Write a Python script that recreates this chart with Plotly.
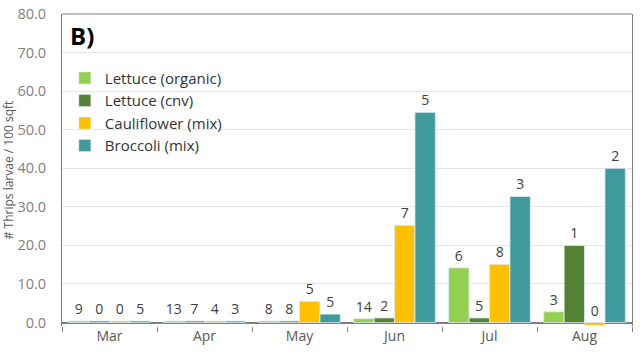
import plotly.graph_objects as go

months = ["Mar", "Apr", "May", "Jun", "Jul", "Aug"]

lettuce_org = [0.4, 0.4, 0.4, 1.0, 14.2, 2.8]
lettuce_cnv = [0.4, 0.4, 0.4, 1.2, 1.2, 20.0]
cauliflower = [0.4, 0.4, 5.5, 25.2, 15.1, -0.7]
broccoli = [0.4, 0.4, 2.2, 54.5, 32.7, 40.0]

n_org = ["9", "13", "8", "14", "6", "3"]
n_cnv = ["0", "7", "8", "2", "5", "1"]
n_cau = ["0", "4", "5", "7", "8", "0"]
n_bro = ["5", "3", "5", "5", "3", "2"]

series = [
    ("Lettuce (organic)", lettuce_org, n_org, "#92D050"),
    ("Lettuce (cnv)", lettuce_cnv, n_cnv, "#548235"),
    ("Cauliflower (mix)", cauliflower, n_cau, "#FFC000"),
    ("Broccoli (mix)", broccoli, n_bro, "#3E9A9C"),
]

fig = go.Figure()
for name, vals, ns, col in series:
    fig.add_trace(go.Bar(x=months, y=vals, name=name, marker_color=col,
                         offsetgroup=name, hoverinfo="x+y+name"))
    # invisible helper bars carry the n labels above the zero line
    fig.add_trace(go.Bar(x=months, y=[max(v, 0) for v in vals], offsetgroup=name,
                         marker_color="rgba(0,0,0,0)", text=ns,
                         textposition="outside", textfont=dict(size=14, color="#404040"),
                         showlegend=False, hoverinfo="skip", cliponaxis=False))

fig.update_layout(
    width=640, height=356,
    margin=dict(l=62, r=8, t=14, b=30),
    barmode="group", bargap=0.14, bargroupgap=0,
    plot_bgcolor="white", paper_bgcolor="white",
    font=dict(family="Open Sans", color="#595959", size=12),
    legend=dict(x=0.005, y=0.847, xanchor="left", yanchor="top",
                font=dict(size=15, color="#333333"), bgcolor="rgba(255,255,255,0)",
                tracegroupgap=0),
    showlegend=True,
)
fig.update_xaxes(showline=False, ticks="outside", tickson="boundaries", ticklen=5,
                 tickcolor="#7f7f7f", tickfont=dict(size=14, color="#595959"),
                 automargin=False)
fig.update_yaxes(range=[-0.9, 80], dtick=10, tickformat=".1f", showgrid=True,
                 gridcolor="#e6e6e6", showline=True, linecolor="#7f7f7f", mirror=True,
                 zeroline=True, zerolinecolor="#7f7f7f", zerolinewidth=1.5,
                 ticklabelstandoff=12, automargin=False,
                 tickfont=dict(size=14.5, color="#7f7f7f"),
                 title=dict(text="# Thrips larvae / 100 sqft", font=dict(size=12, color="#595959"),
                            standoff=3))
fig.add_shape(type="line", xref="paper", yref="paper", x0=0, x1=1, y0=1, y1=1,
              line=dict(color="#7f7f7f", width=1))
fig.add_annotation(text="<b>B)</b>", xref="paper", yref="paper", x=0.01, y=0.99,
                   xanchor="left", yanchor="top", showarrow=False,
                   font=dict(size=24, color="black"))

# the page's default body margin would offset the chart by 8px
fig.write_html("out.html", config={"displayModeBar": False},
               post_script="document.body.style.margin='0';")
